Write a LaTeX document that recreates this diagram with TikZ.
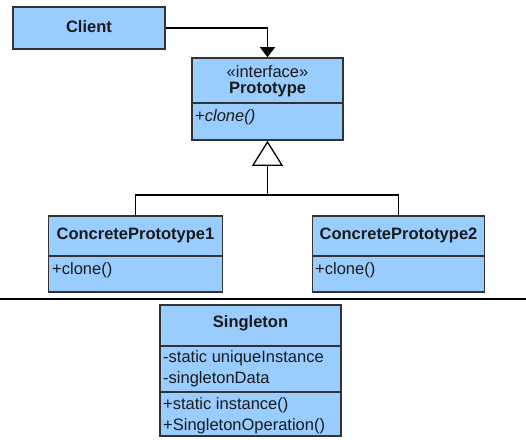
\documentclass[tikz,border=0pt]{standalone}
\usepackage{fontspec}
\setmainfont{Liberation Sans}
\usetikzlibrary{arrows.meta}
\definecolor{umlblue}{HTML}{99CCFF}
\definecolor{umlline}{HTML}{333333}
\definecolor{umltext}{HTML}{1A1A1A}

\begin{document}
\begin{tikzpicture}[x=1pt, y=-1pt,
    every node/.style={font=\fontsize{16.5}{19}\selectfont, text=umltext},
    classbox/.style={draw=umlline, fill=umlblue, line width=1.6pt, rectangle, inner sep=0pt},
    member/.style={anchor=west, inner xsep=0pt},
    wire/.style={line width=1.3pt, black}]
    \useasboundingbox (0,0) rectangle (526,439);

    % Boxes
    \node [classbox, minimum width=152pt, minimum height=42pt] (client) at (89,28) {};
    \node [classbox, minimum width=151pt, minimum height=82pt] (proto) at (267.5,99) {};
    \node [classbox, minimum width=174pt, minimum height=76pt] (conc1) at (135.5,254) {};
    \node [classbox, minimum width=172pt, minimum height=76pt] (conc2) at (398.5,254) {};
    \node [classbox, minimum width=181pt, minimum height=131pt] (single) at (250.5,370.5) {};

    % Compartment lines
    \draw [umlline, line width=1.6pt] (proto.west |- 0,103) -- (proto.east |- 0,103);
    \draw [umlline, line width=1.6pt] (conc1.west |- 0,256) -- (conc1.east |- 0,256);
    \draw [umlline, line width=1.6pt] (conc2.west |- 0,256) -- (conc2.east |- 0,256);
    \draw [umlline, line width=1.6pt] (single.west |- 0,346) -- (single.east |- 0,346);
    \draw [umlline, line width=1.6pt] (single.west |- 0,392) -- (single.east |- 0,392);

    % Node Labels
    \node [font=\fontsize{16.5}{19}\bfseries] (clientname) at (89,27) {Client};
    \node (stereo) at (267.5,72) {«interface»};
    \node [font=\fontsize{16.5}{19}\bfseries] (protoname) at (267.5,90) {Prototype};
    \node [member] (protoop) at (195,117) {+\textit{clone()}};
    \node [font=\fontsize{16.5}{19}\bfseries] (conc1name) at (135.5,235) {ConcretePrototype1};
    \node [member] (conc1op) at (52,270) {+clone()};
    \node [font=\fontsize{16.5}{19}\bfseries] (conc2name) at (398.5,235) {ConcretePrototype2};
    \node [member] (conc2op) at (315,270) {+clone()};
    \node [font=\fontsize{16.5}{19}\bfseries] (singlename) at (250.5,323) {Singleton};
    \node [member] (attr1) at (163,358) {-static uniqueInstance};
    \node [member] (attr2) at (163,379) {-singletonData};
    \node [member] (op1) at (163,405) {+static instance()};
    \node [member] (op2) at (163,426) {+SingletonOperation()};

    % Arrows and lines
    \draw [wire, -{Triangle[width=15pt, length=10pt]}] (client.east) -| (proto.north);
    \coordinate (fork) at (267.5,195);
    \draw [wire, -{Triangle[open, fill=white, width=31pt, length=25pt]}] (fork) -- (proto.south);
    \draw [wire] (fork) -| (conc1.north);
    \draw [wire] (fork) -| (conc2.north);

    % Separator
    \draw [line width=2.6pt, black] (0,299) -- (526,299);
\end{tikzpicture}
\end{document}
